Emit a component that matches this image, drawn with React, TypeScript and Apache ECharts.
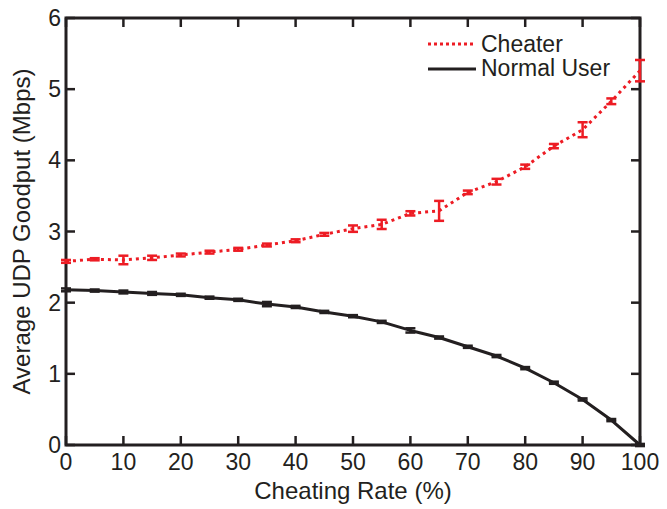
import React, { useEffect, useRef } from "react";
import * as echarts from "echarts";

const rates = [0, 5, 10, 15, 20, 25, 30, 35, 40, 45, 50, 55, 60, 65, 70, 75, 80, 85, 90, 95, 100];
const cheater = [2.58, 2.61, 2.6, 2.63, 2.67, 2.71, 2.75, 2.81, 2.87, 2.96, 3.04, 3.1, 3.255, 3.29, 3.55, 3.7, 3.91, 4.2, 4.43, 4.83, 5.26];
const cheaterErr = [0.02, 0.015, 0.06, 0.03, 0.02, 0.02, 0.02, 0.02, 0.02, 0.02, 0.045, 0.065, 0.03, 0.14, 0.025, 0.04, 0.03, 0.03, 0.105, 0.04, 0.15];
const normal = [2.18, 2.17, 2.15, 2.13, 2.11, 2.07, 2.04, 1.98, 1.94, 1.87, 1.81, 1.73, 1.61, 1.51, 1.38, 1.25, 1.08, 0.875, 0.64, 0.35, 0.0];
const normalErr = [0.02, 0.015, 0.02, 0.02, 0.015, 0.015, 0.015, 0.03, 0.015, 0.015, 0.015, 0.015, 0.03, 0.015, 0.015, 0.015, 0.015, 0.015, 0.015, 0.015, 0.015];
const xTicks = [0, 10, 20, 30, 40, 50, 60, 70, 80, 90, 100];
const yTicks = [0, 1, 2, 3, 4, 5, 6];
const X_MIN = 0, X_MAX = 100, Y_MIN = 0, Y_MAX = 6;

const RED = "#ed1c24";
const BLACK = "#231f20";
const FONT = "'Liberation Sans', Arial, sans-serif";
const TICK = 9;

function errSeries(vals: number[], errs: number[], color: string) {
  return {
    type: "custom",
    silent: true,
    z: 5,
    data: rates.map((r, i) => [r, vals[i] - errs[i], vals[i] + errs[i]]),
    renderItem: (params: any, api: any) => {
      const x = api.value(0);
      const lo = api.coord([x, api.value(1)]);
      const hi = api.coord([x, api.value(2)]);
      const w = 5;
      const st = { stroke: color, lineWidth: 2.5 };
      return {
        type: "group",
        children: [
          { type: "line", shape: { x1: lo[0], y1: lo[1], x2: hi[0], y2: hi[1] }, style: st },
          { type: "line", shape: { x1: lo[0] - w, y1: lo[1], x2: lo[0] + w, y2: lo[1] }, style: st },
          { type: "line", shape: { x1: hi[0] - w, y1: hi[1], x2: hi[0] + w, y2: hi[1] }, style: st },
        ],
      };
    },
  };
}

const legendGraphics = [
  { type: "line", z: 10, shape: { x1: 428, y1: 44, x2: 476, y2: 44 }, style: { stroke: RED, lineWidth: 3, lineDash: [3, 3] } },
  { type: "text", z: 10, x: 481, y: 44, style: { text: "Cheater", fill: BLACK, font: `23px ${FONT}`, textVerticalAlign: "middle" } },
  { type: "line", z: 10, shape: { x1: 428, y1: 69, x2: 476, y2: 69 }, style: { stroke: BLACK, lineWidth: 3 } },
  { type: "text", z: 10, x: 481, y: 68, style: { text: "Normal User", fill: BLACK, font: `23px ${FONT}`, textVerticalAlign: "middle" } },
];

export default function App() {
  const ref = useRef<HTMLDivElement>(null);
  useEffect(() => {
    const chart = echarts.init(ref.current!, null, { renderer: "svg" });
    chart.setOption({
      animation: false,
      backgroundColor: "#fff",
      grid: { left: 66, right: 27, top: 18, bottom: 64, containLabel: false, show: true, borderColor: BLACK, borderWidth: 3, backgroundColor: "transparent" },
      xAxis: {
        type: "value", min: X_MIN, max: X_MAX, interval: 10,
        axisLine: { show: false }, axisTick: { show: false }, splitLine: { show: false },
        axisLabel: { color: BLACK, fontSize: 23, fontFamily: FONT, margin: 5 },
        name: "Cheating Rate (%)", nameLocation: "middle", nameGap: 33,
        nameTextStyle: { color: BLACK, fontSize: 24, fontFamily: FONT },
      },
      yAxis: {
        type: "value", min: Y_MIN, max: Y_MAX, interval: 1,
        axisLine: { show: false }, axisTick: { show: false }, splitLine: { show: false },
        axisLabel: { color: BLACK, fontSize: 23, fontFamily: FONT, margin: 5 },
        name: "Average UDP Goodput (Mbps)", nameLocation: "middle", nameGap: 33,
        nameTextStyle: { color: BLACK, fontSize: 24, fontFamily: FONT },
      },
      series: [
        {
          name: "Normal User", type: "line", data: rates.map((r, i) => [r, normal[i]]),
          symbol: "none", lineStyle: { color: BLACK, width: 3 }, z: 3,
        },
        {
          name: "Cheater", type: "line", data: rates.map((r, i) => [r, cheater[i]]),
          symbol: "none", lineStyle: { color: RED, width: 3, type: [3, 4] }, z: 4,
        },
        errSeries(normal, normalErr, BLACK),
        errSeries(cheater, cheaterErr, RED),
      ],
      graphic: legendGraphics,
    });

    // inward tick marks on all four sides, positioned through the chart's own scales
    const px = (x: number, y: number) => chart.convertToPixel({ gridIndex: 0 }, [x, y]) as number[];
    const ticks: any[] = [];
    const st = { stroke: BLACK, lineWidth: 2.5 };
    xTicks.forEach((t) => {
      const b = px(t, Y_MIN);
      const tp = px(t, Y_MAX);
      ticks.push({ type: "line", z: 20, shape: { x1: b[0], y1: b[1], x2: b[0], y2: b[1] - TICK }, style: { ...st } });
      ticks.push({ type: "line", z: 20, shape: { x1: tp[0], y1: tp[1], x2: tp[0], y2: tp[1] + TICK }, style: { ...st } });
    });
    yTicks.forEach((t) => {
      const l = px(X_MIN, t);
      const r = px(X_MAX, t);
      ticks.push({ type: "line", z: 20, shape: { x1: l[0], y1: l[1], x2: l[0] + TICK, y2: l[1] }, style: { ...st } });
      ticks.push({ type: "line", z: 20, shape: { x1: r[0], y1: r[1], x2: r[0] - TICK, y2: r[1] }, style: { ...st } });
    });
    chart.setOption({ graphic: [...legendGraphics, ...ticks] }, { replaceMerge: ["graphic"] });

    return () => chart.dispose();
  }, []);
  return <div ref={ref} style={{ width: 667, height: 509, position: "absolute", left: 0, top: 0 }} />;
}
